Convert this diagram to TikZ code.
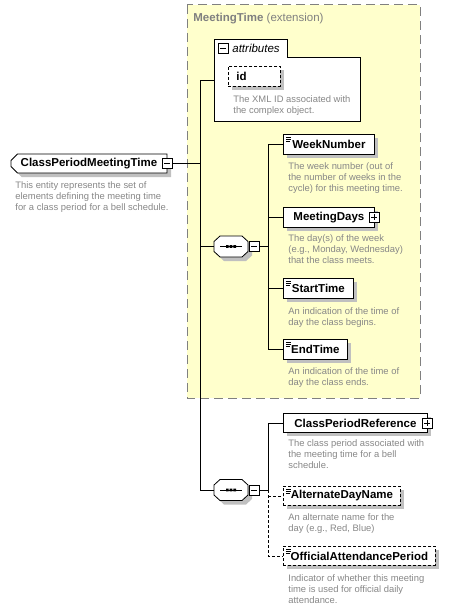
\documentclass[tikz,border=0pt]{standalone}
\usepackage{fontspec}
\setmainfont{Liberation Sans}
\usetikzlibrary{shapes.misc,shadows}
\definecolor{shadowgray}{RGB}{192,192,192}
\definecolor{descgray}{RGB}{135,135,135}
\definecolor{extyellow}{RGB}{255,255,204}
\definecolor{extborder}{RGB}{128,128,128}
\newcommand\octshape{(-17,-5) -- (-11,-10.5) -- (11,-10.5) -- (17,-5) -- (17,5) -- (11,10.5) -- (-11,10.5) -- (-17,5) -- cycle}
\newcommand\drawseq[1]{%
  \fill[shadowgray,shift={(#1.center)},xshift=4pt,yshift=-4pt] \octshape;
  \draw[fill=white,line width=0.8pt,shift={(#1.center)}] \octshape;
  \draw[line width=0.8pt,shift={(#1.center)}] (-11,0) -- (11,0);
  \fill[shift={(#1.center)}] (-5,-1.3) rectangle (-2.4,1.3) (-1.3,-1.3) rectangle (1.3,1.3) (2.4,-1.3) rectangle (5,1.3);
}
\begin{document}
\begin{tikzpicture}[x=1pt,y=-1pt,line width=0.8pt,
  namefont/.style={font=\fontsize{11.5}{13}\selectfont\bfseries},
  elem/.style={rectangle,draw=black,fill=white,inner sep=0pt,minimum height=20pt,
    anchor=north west,namefont,
    general shadow={fill=shadowgray,shadow xshift=4pt,shadow yshift=-4pt}},
  opt/.style={elem,dash pattern=on 3pt off 2pt},
  leaf/.style={path picture={\draw[line width=0.5pt,solid]
     ([shift={(2.5pt,-2.5pt)}]path picture bounding box.north west) -- ++(5.5pt,0pt)
     ++(-5.5pt,-2pt) -- ++(5.5pt,0pt) ++(-5.5pt,-2pt) -- ++(4pt,0pt);}},
  icon/.style={rectangle,draw=black,solid,fill=white,inner sep=0pt,minimum size=10pt,line width=0.8pt},
  minusicon/.style={icon,path picture={\draw[line width=0.8pt]
     ([xshift=2pt]path picture bounding box.west) -- ([xshift=-2pt]path picture bounding box.east);}},
  plusicon/.style={icon,path picture={\draw[line width=0.8pt]
     ([xshift=2pt]path picture bounding box.west) -- ([xshift=-2pt]path picture bounding box.east)
     ([yshift=-2pt]path picture bounding box.north) -- ([yshift=2pt]path picture bounding box.south);}},
  seqshape/.style={rectangle,draw=none,minimum width=34pt,minimum height=21pt,inner sep=0pt},
  desc/.style={anchor=north west,inner sep=0pt,align=left,text=descgray,
    font=\fontsize{9.4}{11}\selectfont},
  conn/.style={draw=black,line width=0.8pt},
  optconn/.style={conn,dash pattern=on 3pt off 2pt}
]
\useasboundingbox (0,0) rectangle (463,610);

% extension box
\draw[fill=extyellow,draw=extborder,dash pattern=on 9pt off 5pt,line width=1pt] (187,5) rectangle (420,398);
\node[anchor=west,inner sep=0pt,text=extborder,font=\fontsize{11.5}{13}\selectfont] (exttitle) at (193,19) {\textbf{MeetingTime} (extension)};

% coordinates for trunk lines
\coordinate (trunk) at (200,0);
\coordinate (br1) at (268,0);
\coordinate (attrIn) at (214,80);

% attributes box
\draw[fill=white] (214,121) -- (214,39) -- (287,39) -- (287,57) -- (360,57) -- (360,121) -- cycle;
\node[minusicon] (attricon) at (223,48) {};
\node[anchor=west,inner sep=0pt,font=\fontsize{11.5}{13}\selectfont\itshape] (attrlabel) at (232,48) {attributes};

% main element
\node[chamfered rectangle,chamfered rectangle corners={north west,south west},chamfered rectangle xsep=3pt,
  draw=black,fill=white,minimum width=156pt,minimum height=19pt,inner sep=0pt,namefont,
  general shadow={fill=shadowgray,shadow xshift=4pt,shadow yshift=-4pt}] (cpmt) at (89,163.5) {ClassPeriodMeetingTime\hspace{6pt}};
\node[minusicon] (cpmticon) at (167,163) {};
\node[desc] (cpmtdesc) at (15,180) {\strut This entity represents the set of\\elements defining the meeting time\\for a class period for a bell schedule.};

% sequences
\node[seqshape] (seq1) at (231,246.5) {};
\node[seqshape] (seq2) at (231,490) {};

% trunk connectors
\draw[conn] (cpmticon.east) -- (cpmticon.east -| trunk);
\draw[conn] (attrIn) -- (attrIn -| trunk) -- (seq2.west -| trunk) -- (seq2.west);
\draw[conn] (seq1.west -| trunk) -- (seq1.west);

\drawseq{seq1}
\drawseq{seq2}
\node[minusicon] (seq1icon) at (254,246.5) {};
\node[minusicon] (seq2icon) at (254,490) {};

% id attribute
\node[opt,minimum width=52pt,minimum height=20pt,text width=36pt,inner xsep=8pt,align=left] (id) at (228,66) {id};
\node[desc] (iddesc) at (233,94) {\strut The XML ID associated with\\the complex object.};

% sequence 1 children
\node[elem,leaf,minimum width=91pt] (wk) at (283,134) {WeekNumber};
\node[desc] (wkdesc) at (288,161.5) {\strut The week number (out of\\the number of weeks in the\\cycle) for this meeting time.};
\node[elem,minimum width=91pt] (md) at (283,207) {MeetingDays\hspace{5pt}};
\node[plusicon] (mdicon) at (374,217) {};
\node[desc] (mddesc) at (288,233) {\strut The day(s) of the week\\(e.g., Monday, Wednesday)\\that the class meets.};
\node[elem,leaf,minimum width=70pt] (st) at (283,278) {StartTime};
\node[desc] (stdesc) at (288,306) {\strut An indication of the time of\\day the class begins.};
\node[elem,leaf,minimum width=64pt] (et) at (283,339) {EndTime};
\node[desc] (etdesc) at (288,366) {\strut An indication of the time of\\day the class ends.};

\draw[conn] (seq1icon.east) -- (seq1icon.east -| br1);
\draw[conn] (wk.west -| br1) -- (et.west -| br1);
\draw[conn] (wk.west -| br1) -- (wk.west);
\draw[conn] (md.west -| br1) -- (md.west);
\draw[conn] (st.west -| br1) -- (st.west);
\draw[conn] (et.west -| br1) -- (et.west);

% sequence 2 children
\node[elem,minimum width=144pt,minimum height=19pt] (cpr) at (283,413) {ClassPeriodReference\hspace{6pt}};
\node[plusicon] (cpricon) at (427,423) {};
\node[desc] (cprdesc) at (288,438) {\strut The class period associated with\\the meeting time for a bell\\schedule.};
\node[opt,leaf,minimum width=117pt,minimum height=19pt] (adn) at (283,486) {AlternateDayName};
\node[desc] (adndesc) at (288,512) {\strut An alternate name for the\\day (e.g., Red, Blue)};
\node[opt,leaf,minimum width=152pt,minimum height=19pt] (oap) at (283,546) {OfficialAttendancePeriod};
\node[desc] (oapdesc) at (288,573) {\strut Indicator of whether this meeting\\time is used for official daily\\attendance.};

\draw[conn] (seq2icon.east) -- (seq2icon.east -| br1) -- (cpr.west -| br1) -- (cpr.west);
\draw[optconn] (seq2icon.east -| br1) -- (oap.west -| br1) -- (oap.west);
\draw[optconn] (adn.west -| br1) -- (adn.west);
\end{tikzpicture}
\end{document}
